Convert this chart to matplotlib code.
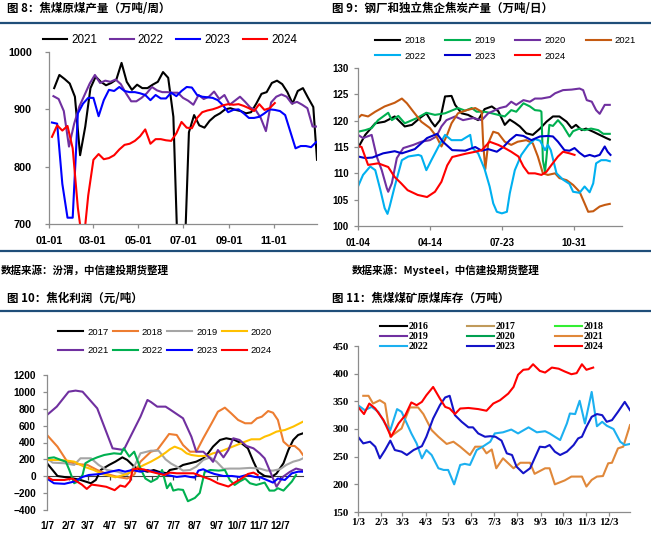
import numpy as np
import matplotlib
matplotlib.use("Agg")
import matplotlib.pyplot as plt
from matplotlib.lines import Line2D

W, H = 651, 534
CJK = ["Noto Sans CJK SC", "DejaVu Sans"]
RULE = "#1F4E79"
AXC = "#8C8C8C"

# ---------------- 图8 焦煤原煤产量 (weekly, x = day of year)
p1_ticks = [0, 59, 120, 181, 243, 304]
p1_labels = ["01-01", "03-01", "05-01", "07-01", "09-01", "11-01"]
p1_x2021 = list(range(7, 358, 7)) + [362]
p1_2021 = [937, 960, 953, 945, 922, 820, 870, 937, 957, 948, 942, 946, 952, 981, 948,
           934, 943, 937, 937, 943, 948, 965, 955, 887, 600, 600, 860, 890, 872, 868,
           880, 888, 893, 900, 902, 899, 897, 893, 895, 910, 927, 930, 946, 950, 944,
           930, 910, 932, 937, 920, 904, 812]
p1_x2022 = list(range(6, 364, 7))
p1_2022 = [923, 918, 897, 835, 875, 905, 925, 945, 960, 946, 950, 948, 952, 944, 928,
           914, 914, 920, 928, 939, 933, 930, 930, 929, 929, 920, 915, 908, 925, 918,
           922, 931, 918, 925, 908, 915, 922, 913, 903, 899, 885, 862, 912, 922, 926,
           922, 910, 913, 908, 902, 870, 870]
p1_x2023 = list(range(4, 362, 7))
p1_2023 = [877, 875, 770, 711, 711, 893, 910, 920, 920, 888, 916, 934, 932, 939, 932,
           930, 930, 928, 925, 916, 925, 919, 919, 929, 923, 932, 939, 938, 925, 922,
           921, 920, 916, 907, 895, 899, 900, 893, 885, 885, 887, 893, 900, 899, 897,
           890, 861, 832, 836, 836, 834, 843]
p1_x2024 = list(range(4, 306, 7))
p1_2024 = [852, 872, 863, 871, 832, 728, 660, 750, 812, 822, 813, 815, 820, 830, 838,
           840, 845, 853, 865, 840, 848, 848, 846, 845, 858, 878, 868, 867, 885, 895,
           898, 900, 903, 907, 909, 908, 909, 906, 902, 897, 909, 899, 902, 911]

# ---------------- 图9 焦炭产量 (x = days since 01-04)
p2_ticks = [0, 100, 200, 300]
p2_labels = ["01-04", "04-14", "07-23", "10-31"]
p2_x2018 = [0, 10, 24, 37, 51, 65, 75, 86, 95, 102, 107, 114, 121, 130, 135, 144, 153, 167, 176, 186,
            195, 204, 211, 218, 225, 234, 243, 253, 262, 271, 280, 290, 297, 303, 311, 317, 327, 336, 345, 350]
p2_2018 = [114.8, 117.3, 119.5, 119.8, 120.8, 118.9, 119.2, 120.5, 121.4, 119.8, 118.9, 120.1, 124.6, 124.7,
           123, 121.4, 121.1, 120.1, 122.2, 122.7, 121.8, 119.2, 120.2, 119.6, 118.9, 117.6, 117.3, 118.5,
           119.8, 120.8, 120.8, 119.8, 118.6, 119.2, 118.2, 118.5, 117.9, 117.3, 116.7, 116.4]
p2_x2019 = [0, 10, 19, 28, 42, 47, 56, 65, 82, 95, 107, 121, 139, 149, 158, 165, 176, 186, 195, 204, 213,
            220, 230, 239, 246, 253, 255, 257, 260, 262, 266, 271, 278, 285, 294, 299, 308, 315, 324, 334, 341, 350]
p2_2019 = [117.9, 118.2, 118.6, 120.1, 121.5, 120.1, 120.9, 119.5, 120.5, 121.5, 121.1, 121.4, 122.4, 121.9,
           122.4, 121.7, 121.7, 121.4, 121.1, 120.8, 122, 121.7, 123.3, 122.7, 122, 121.9, 121.7, 112.5,
           110.3, 113, 119.2, 119, 120.1, 119, 117, 118, 118.5, 118.2, 118.5, 118.2, 117.5, 117.5]
p2_x2020 = [0, 7, 19, 26, 33, 40, 42, 47, 54, 63, 77, 88, 100, 109, 116, 123, 135, 146, 160, 172, 181,
            186, 197, 206, 213, 220, 230, 239, 246, 255, 267, 274, 285, 297, 308, 313, 318, 325, 331, 336, 343, 350]
p2_2020 = [117.3, 116.7, 117.3, 113.2, 110.6, 107.2, 106.5, 108.1, 112.9, 114.8, 115.4, 116, 116.3, 117,
           118.9, 120.1, 120.8, 120.1, 120.5, 120.1, 121.4, 121.7, 122.4, 122.7, 123.6, 123, 123.9, 123.6,
           124.2, 124.2, 124.5, 125.2, 125.8, 125.9, 126.1, 125.8, 123.9, 123.6, 122, 121.3, 123, 123]
p2_x2021 = [0, 5, 14, 24, 37, 51, 61, 68, 77, 88, 100, 109, 116, 123, 130, 139, 151, 163, 172, 174, 177,
            181, 188, 195, 204, 213, 222, 234, 243, 250, 257, 264, 274, 280, 290, 299, 308, 315, 320, 327,
            336, 343, 350]
p2_2021 = [120.5, 121.1, 120.8, 121.7, 122.7, 123.4, 124.2, 123.3, 121.7, 119.8, 118.6, 117, 115.1, 117,
           119.5, 121.4, 122, 122.4, 121.7, 115.7, 110.8, 115.7, 117.9, 117.6, 116, 115.4, 116, 116.3,
           115.7, 113.2, 110, 109.7, 110, 109.1, 108.7, 107.8, 106.5, 104.3, 102.7, 102.8, 103.7, 104, 104.2]
p2_x2022 = [0, 7, 17, 24, 31, 37, 41, 44, 51, 61, 70, 84, 88, 95, 102, 112, 121, 130, 144, 156, 159, 167,
            176, 183, 188, 193, 200, 207, 211, 218, 227, 237, 246, 253, 260, 264, 268, 276, 285, 294, 299,
            308, 315, 322, 327, 331, 338, 345, 350]
p2_2022 = [107.5, 109.7, 111.3, 110.6, 106.9, 103.4, 102.3, 103.7, 107.5, 112.5, 113.2, 113.5, 113.3,
           110.6, 112.5, 115.1, 117.3, 116.3, 116.3, 117.3, 114.8, 113.8, 110.8, 107.5, 104.3, 102.7,
           102.4, 102.7, 106.2, 110.6, 113.5, 115.4, 116.5, 116.2, 114.4, 115.4, 114.4, 110, 108.8, 108,
           106.5, 106.3, 107.5, 106.4, 108.1, 111.9, 112.5, 112.5, 112.3]
p2_x2023 = [0, 10, 20, 35, 51, 61, 79, 96, 110, 118, 131, 149, 163, 172, 181, 193, 202, 211, 220, 230,
            241, 253, 264, 271, 278, 287, 294, 301, 308, 315, 322, 329, 336, 343, 347, 351]
p2_2023 = [113.2, 112.9, 113, 113.8, 114.2, 113.8, 114.6, 116.7, 117.5, 116, 114.4, 114.3, 115, 114.3,
           114.6, 114.1, 115, 116.3, 117.3, 117.1, 116.3, 117, 117.1, 117, 116, 114.4, 114.3, 114.8,
           113.9, 113.2, 113.5, 113.2, 113.5, 115.1, 114.1, 113.5]
p2_x2024 = [0, 5, 14, 28, 42, 51, 60, 69, 83, 96, 107, 116, 124, 131, 149, 163, 172, 183, 195, 204, 213,
            223, 230, 237, 246, 255, 262, 269, 278, 285, 294, 301]
p2_2024 = [115.2, 115, 111.6, 111.9, 111.2, 109.3, 108.1, 106.8, 105.9, 105.5, 106.5, 108.4, 111.5,
           113.1, 113.7, 114.1, 114.4, 116, 115.4, 114.8, 114.1, 113.2, 111.3, 110, 110, 109.7, 110.3,
           111.6, 113.2, 114.1, 113.8, 113.5]

# ---------------- 图10 焦化利润 (x = day of year)
p3_ticks = [6, 37, 65, 96, 126, 157, 187, 218, 249, 279, 310, 340]
p3_labels = ["1/7", "2/7", "3/7", "4/7", "5/7", "6/7", "7/7", "8/7", "9/7", "10/7", "11/7", "12/7"]
p3_x2017 = [6, 14, 21, 40, 54, 69, 76, 83, 95, 104, 114, 121, 131, 140, 150, 159, 166, 178, 182, 192,
            201, 211, 220, 230, 237, 244, 254, 263, 275, 285, 294, 302, 309, 318, 328, 335, 345, 352,
            359, 366, 373]
p3_2017 = [154, 74, 3, -20, -44, -83, -44, 74, 134, 173, 224, 193, 114, 74, 54, 74, 54, 35, 74, 91,
           134, 154, 173, 213, 272, 351, 430, 450, 430, 390, 331, 173, 51, 3, -8, 32, 154, 311, 430,
           489, 509]
p3_x2018 = [6, 21, 35, 49, 64, 78, 92, 107, 121, 131, 140, 155, 164, 174, 181, 192, 201, 211, 220,
            230, 242, 251, 261, 270, 280, 290, 299, 307, 314, 323, 330, 337, 345, 352, 361, 368, 373]
p3_2018 = [489, 351, 173, 145, 134, 74, 27, -8, -27, 20, 173, 291, 311, 422, 501, 489, 370, 291, 291,
           450, 628, 765, 813, 746, 667, 628, 628, 687, 706, 773, 753, 667, 410, 359, 359, 311, 252]
p3_x2019 = [6, 14, 31, 45, 54, 69, 80, 92, 107, 121, 131, 140, 155, 166, 176, 184, 192, 201, 211, 220,
            230, 240, 249, 259, 268, 282, 297, 311, 321, 330, 340, 349, 359, 368, 373]
p3_2019 = [213, 161, 154, 134, 213, 213, 134, 74, 54, 15, 114, 272, 303, 303, 200, 150, 114, 67, 74,
           114, 193, 224, 173, 87, 91, 91, 99, 91, 67, 67, 83, 134, 173, 193, 213]
p3_x2020 = [6, 21, 35, 45, 59, 73, 85, 97, 104, 116, 128, 135, 145, 155, 166, 176, 182, 189, 199, 206,
            213, 223, 235, 244, 254, 266, 278, 290, 299, 311, 318, 325, 335, 347, 359, 373]
p3_2020 = [193, 193, 185, 173, 114, 74, 27, 3, -12, 15, 54, 91, 134, 173, 224, 280, 319, 351, 319, 272,
           252, 240, 240, 272, 291, 331, 370, 410, 438, 438, 469, 489, 529, 548, 588, 647]
p3_x2021 = [6, 20, 37, 47, 57, 78, 100, 116, 128, 140, 150, 155, 164, 176, 182, 201, 213, 220, 230,
            240, 244, 251, 259, 266, 273, 282, 292, 302, 311, 318, 325, 335, 344, 354, 363, 373]
p3_2021 = [726, 825, 1002, 1015, 1002, 805, 331, 311, 509, 706, 904, 880, 825, 825, 793, 687, 469,
           291, 291, 212, 171, 311, 224, 311, 450, 430, 359, 331, 271, 212, 74, -124, -8, 51, 91, 71]
p3_x2022 = [6, 16, 26, 33, 38, 45, 50, 57, 61, 69, 78, 88, 102, 112, 116, 124, 131, 140, 147, 155,
            164, 171, 178, 183, 187, 194, 201, 208, 218, 225, 232, 240, 252, 261, 268, 275, 282, 290,
            297, 306, 318, 325, 332, 337, 345, 357, 363]
p3_2022 = [213, 224, 193, 173, 74, -83, -63, 15, 154, 193, 224, 252, 272, 264, 331, 233, 291, 91, -27,
           -67, -27, 74, -142, -83, -170, -155, -162, -296, -257, -198, 51, 74, 67, 74, -44, -103, -63,
           -27, -83, -103, -75, -170, -170, -142, -170, -63, 15]
p3_x2023 = [6, 16, 31, 45, 57, 66, 83, 97, 109, 118, 128, 140, 150, 159, 169, 178, 192, 204, 211, 218,
            223, 230, 237, 246, 259, 271, 282, 292, 304, 313, 321, 330, 337, 347, 357, 366, 373]
p3_2023 = [-27, -83, -90, -63, -8, 15, 27, 54, 74, 54, 74, 54, 74, 54, 35, 15, -8, 3, -8, -16, 67, 83,
           54, 27, 3, 3, -8, 15, -8, -16, -44, -75, -27, -44, 35, 54, 54]
p3_x2024 = [6, 14, 31, 42, 49, 56, 63, 70, 80, 91, 103, 111, 118, 125, 129, 137, 145, 155, 164, 174,
            182, 192, 204, 216, 223, 230, 240, 251, 266, 275, 285, 294, 302, 308]
p3_2024 = [-8, -44, -44, -27, -63, -99, -150, -99, -110, -125, -165, -110, -125, -59, 82, 91, 80, 54,
           35, 15, 43, 35, 35, 35, 15, -8, -36, -83, -122, -75, -27, 27, 43, 15]

# ---------------- 图11 焦煤煤矿原煤库存 (x = day of year)
p4_ticks = [2, 33, 61, 92, 122, 153, 183, 214, 245, 275, 306, 336]
p4_labels = ["1/3", "2/3", "3/3", "4/3", "5/3", "6/3", "7/3", "8/3", "9/3", "10/3", "11/3", "12/3"]
p4_x2021 = [9, 16, 22, 31, 38, 45, 51, 60, 65, 71, 82, 89, 100, 109, 120, 129, 138, 151, 158, 167, 173,
            180, 186, 195, 209, 218, 231, 237, 251, 257, 264, 277, 286, 293, 300, 306, 313, 320, 328,
            335, 340, 348, 355, 364]
p4_2021 = [360, 360, 346, 352, 346, 286, 292, 301, 319, 339, 339, 327, 298, 286, 273, 277, 268, 253,
           268, 268, 256, 263, 229, 247, 229, 239, 239, 219, 229, 229, 200, 207, 214, 214, 214, 196,
           208, 214, 215, 238, 239, 265, 268, 307]
p4_x2022 = [2, 11, 20, 29, 38, 45, 54, 60, 73, 80, 87, 93, 100, 109, 116, 122, 130, 138, 144, 151, 160,
            169, 178, 184, 195, 206, 215, 229, 240, 251, 257, 271, 280, 284, 291, 297, 304, 313, 320,
            327, 333, 342, 351, 357, 364]
p4_2022 = [343, 334, 340, 331, 310, 298, 336, 331, 292, 274, 247, 262, 253, 229, 226, 226, 200, 235,
           237, 235, 262, 269, 277, 292, 294, 299, 292, 303, 294, 296, 292, 280, 310, 328, 327, 351,
           310, 367, 305, 313, 306, 300, 277, 271, 273]
p4_x2023 = [2, 9, 18, 25, 31, 38, 45, 51, 60, 67, 76, 87, 93, 102, 111, 118, 124, 131, 140, 149, 155,
            162, 171, 178, 185, 193, 200, 207, 213, 222, 231, 237, 244, 251, 257, 264, 271, 280, 289,
            295, 300, 306, 313, 320, 327, 333, 340, 348, 357, 364]
p4_2023 = [286, 274, 277, 268, 247, 262, 279, 262, 259, 253, 262, 269, 286, 319, 343, 357, 360, 325,
           313, 303, 303, 292, 286, 287, 286, 279, 256, 253, 232, 220, 229, 247, 268, 267, 271, 259,
           253, 259, 271, 283, 286, 304, 322, 327, 325, 313, 316, 331, 349, 334]
p4_x2024 = [2, 10, 17, 25, 36, 46, 56, 65, 73, 80, 87, 93, 102, 111, 118, 124, 131, 138, 149, 162, 173,
            182, 191, 202, 209, 215, 222, 229, 235, 244, 251, 260, 269, 277, 286, 293, 300, 306, 315]
p4_2024 = [340, 327, 346, 337, 316, 286, 310, 325, 348, 343, 349, 361, 376, 355, 340, 337, 327, 337,
           338, 336, 333, 346, 352, 364, 376, 398, 407, 408, 417, 405, 402, 411, 409, 404, 399, 401,
           417, 407, 411]

fig = plt.figure(figsize=(W / 100, H / 100), dpi=100)


def px_axes(l, t, r, b):
    return fig.add_axes([l / W, 1 - b / H, (r - l) / W, (b - t) / H])


def style_axes(ax, family, size, xpad, ypad):
    for s in ("top", "right"):
        ax.spines[s].set_visible(False)
    for s in ("left", "bottom"):
        ax.spines[s].set_color(AXC)
        ax.spines[s].set_linewidth(0.9)
    ax.tick_params(direction="out", length=3, width=0.9, color=AXC, labelsize=size)
    ax.tick_params(axis="x", pad=xpad)
    ax.tick_params(axis="y", pad=ypad)
    for lab in ax.get_xticklabels() + ax.get_yticklabels():
        lab.set_fontfamily(family)
        lab.set_fontweight("bold")


def legend(ax, handles, x, y, ncol, size, hl, htp, cs, ls, family="Liberation Sans", weight="normal"):
    ax.legend(handles=handles, loc="center left", bbox_to_anchor=(x / W, 1 - y / H),
              bbox_transform=fig.transFigure, ncol=ncol, frameon=False, borderpad=0,
              borderaxespad=0, handlelength=hl, handletextpad=htp, columnspacing=cs,
              labelspacing=ls, prop={"family": family, "size": size, "weight": weight})


def rule(y, x0=0, x1=W):
    fig.add_artist(Line2D([x0 / W, x1 / W], [1 - y / H, 1 - y / H], color=RULE, lw=1.6))


# titles, rules and sources
for x, y, s in [(7, 9, "图 8：焦煤原煤产量（万吨/周）"),
                (332, 9, "图 9：钢厂和独立焦企焦炭产量（万吨/日）"),
                (7, 298, "图 10：焦化利润（元/吨）"),
                (332, 298, "图 11：焦煤煤矿原煤库存（万吨）")]:
    fig.text(x / W, 1 - y / H, s, fontsize=8.3, fontweight="bold", family=CJK, va="center")
rule(23)
rule(251)
rule(311)
fig.text(1 / W, 1 - 270 / H, "数据来源：汾渭，中信建投期货整理", fontsize=7.6,
         fontweight="bold", family=CJK, va="center")
fig.text(352 / W, 1 - 270 / H, "数据来源：Mysteel，中信建投期货整理", fontsize=7.6,
         fontweight="bold", family=CJK, va="center")

LW = 1.5

# ---------------- panel 1
ax1 = px_axes(49, 52, 317, 224)
h1 = [ax1.plot(p1_x2021, p1_2021, color="#000000", lw=LW, label="2021")[0],
      ax1.plot(p1_x2022, p1_2022, color="#7030A0", lw=LW, label="2022")[0],
      ax1.plot(p1_x2023, p1_2023, color="#0000FF", lw=LW, label="2023")[0],
      ax1.plot(p1_x2024, p1_2024, color="#FF0000", lw=LW, label="2024")[0]]
ax1.set_xlim(0, 362)
ax1.set_ylim(700, 1000)
ax1.set_yticks([700, 800, 900, 1000])
ax1.set_xticks(p1_ticks, p1_labels)
style_axes(ax1, "Liberation Sans", 7.8, 5.8, 9.4)
legend(ax1, h1, 43, 40, 4, 8.4, 2.05, 0.34, 1.1, 0.5)

# ---------------- panel 2
ax2 = px_axes(358, 68, 622, 226)
c2 = {"2018": "#000000", "2019": "#00B050", "2020": "#7030A0", "2021": "#C55A11",
      "2022": "#00B0F0", "2023": "#0000CC", "2024": "#FF0000"}
s2 = [("2018", p2_x2018, p2_2018), ("2019", p2_x2019, p2_2019), ("2020", p2_x2020, p2_2020),
      ("2021", p2_x2021, p2_2021), ("2022", p2_x2022, p2_2022), ("2023", p2_x2023, p2_2023),
      ("2024", p2_x2024, p2_2024)]
h2 = {}
for name, xs, ys in s2:
    h2[name] = ax2.plot(xs, ys, color=c2[name], lw=LW, label=name)[0]
ax2.set_xlim(0, 367)
ax2.set_ylim(100, 130)
ax2.set_yticks(np.arange(100, 131, 5))
ax2.set_xticks(p2_ticks, p2_labels)
style_axes(ax2, "Liberation Sans", 7, 5.8, 3.6)
order2 = ["2018", "2022", "2019", "2023", "2020", "2024", "2021"]
legend(ax2, [h2[k] for k in order2], 375, 48.5, 4, 6.8, 2.65, 0.43, 2.1, 0.64)

# ---------------- panel 3
ax3 = px_axes(47, 375, 303, 510)
c3 = {"2017": "#000000", "2018": "#ED7D31", "2019": "#A5A5A5", "2020": "#FFC000",
      "2021": "#7030A0", "2022": "#00B050", "2023": "#0000FF", "2024": "#FF0000"}
s3 = [("2017", p3_x2017, p3_2017), ("2018", p3_x2018, p3_2018), ("2019", p3_x2019, p3_2019),
      ("2020", p3_x2020, p3_2020), ("2021", p3_x2021, p3_2021), ("2022", p3_x2022, p3_2022),
      ("2023", p3_x2023, p3_2023), ("2024", p3_x2024, p3_2024)]
h3 = {}
for name, xs, ys in s3:
    h3[name] = ax3.plot(xs, ys, color=c3[name], lw=LW, label=name)[0]
ax3.set_xlim(6, 373)
ax3.set_ylim(-400, 1200)
ax3.set_yticks(np.arange(-400, 1201, 200))
ax3.set_xticks(p3_ticks, p3_labels)
style_axes(ax3, "Liberation Sans", 7.3, 8, 5)
ax3.spines["bottom"].set_visible(False)
ax3.tick_params(axis="x", length=0)
zero = ax3.secondary_xaxis(0.25)
zero.set_xticks(p3_ticks, [""] * len(p3_ticks))
zero.spines["bottom"].set_color("#404040")
zero.tick_params(length=3, width=0.9, color="#404040")
order3 = ["2017", "2021", "2018", "2022", "2019", "2023", "2020", "2024"]
legend(ax3, [h3[k] for k in order3], 58, 341.5, 4, 6.8, 2.65, 0.43, 0.45, 1.0)

# ---------------- panel 4
ax4 = px_axes(358, 346, 630, 512)
c4 = {"2016": "#000000", "2017": "#C09A5B", "2018": "#33EE33", "2019": "#7030A0",
      "2020": "#00A050", "2021": "#E0883A", "2022": "#1CB0F0", "2023": "#1414C8",
      "2024": "#FF0000"}
h4 = {}
for name in ["2016", "2017", "2018", "2019", "2020"]:
    h4[name] = ax4.plot([], [], color=c4[name], lw=LW, label=name)[0]
for name, xs, ys in [("2021", p4_x2021, p4_2021), ("2022", p4_x2022, p4_2022),
                     ("2023", p4_x2023, p4_2023), ("2024", p4_x2024, p4_2024)]:
    h4[name] = ax4.plot(xs, ys, color=c4[name], lw=LW, label=name)[0]
ax4.set_xlim(2, 364)
ax4.set_ylim(150, 450)
ax4.set_yticks(np.arange(150, 451, 50))
ax4.set_xticks(p4_ticks, p4_labels)
style_axes(ax4, "Liberation Serif", 7.8, 1.5, 3.6)
order4 = ["2016", "2019", "2022", "2017", "2020", "2023", "2018", "2021", "2024"]
legend(ax4, [h4[k] for k in order4], 380, 336.5, 3, 7.2, 2.7, 0.15, 3.9, 0.1,
       family="Liberation Serif", weight="bold")

fig.savefig("out.png", dpi=100)
